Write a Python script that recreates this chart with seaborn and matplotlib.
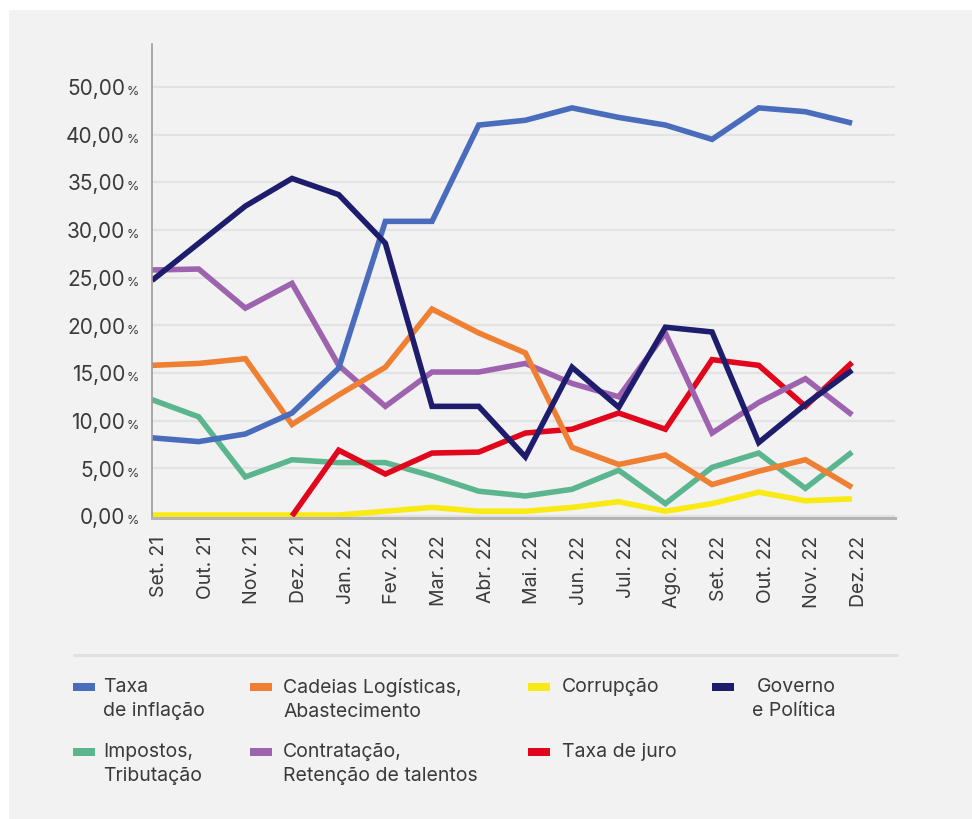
import numpy as np
import pandas as pd
import matplotlib
matplotlib.use("Agg")
import matplotlib.pyplot as plt
import matplotlib.transforms as mtransforms
from matplotlib.patches import Rectangle
from matplotlib.lines import Line2D
import seaborn as sns

# dados (% de respostas por mes)
months = ["Set. 21", "Out. 21", "Nov. 21", "Dez. 21", "Jan. 22", "Fev. 22", "Mar. 22", "Abr. 22",
          "Mai. 22", "Jun. 22", "Jul. 22", "Ago. 22", "Set. 22", "Out. 22", "Nov. 22", "Dez. 22"]

inflacao = [8.2, 7.8, 8.6, 10.8, 15.5, 30.9, 30.9, 41.0, 41.5, 42.8, 41.8, 41.0, 39.5, 42.8, 42.4, 41.2]
cadeias = [15.8, 16.0, 16.5, 9.6, 12.7, 15.6, 21.7, 19.2, 17.1, 7.2, 5.4, 6.4, 3.3, 4.7, 5.9, 3.0]
corrupcao = [0.1, 0.1, 0.1, 0.1, 0.1, 0.5, 0.9, 0.5, 0.5, 0.9, 1.5, 0.5, 1.3, 2.5, 1.6, 1.8]
governo = [24.7, 28.6, 32.5, 35.4, 33.7, 28.6, 11.5, 11.5, 6.2, 15.6, 11.4, 19.8, 19.3, 7.7, 11.7, 15.3]
impostos = [12.2, 10.4, 4.1, 5.9, 5.6, 5.6, 4.2, 2.6, 2.1, 2.8, 4.8, 1.3, 5.1, 6.6, 2.9, 6.7]
contratacao = [25.8, 25.9, 21.8, 24.4, 15.8, 11.5, 15.1, 15.1, 16.0, 13.9, 12.5, 19.2, 8.7, 11.9, 14.4, 10.6]
juro = [np.nan, np.nan, np.nan, 0.0, 6.9, 4.4, 6.6, 6.7, 8.7, 9.1, 10.8, 9.1, 16.4, 15.8, 11.5, 16.1]

ytick_vals = [0, 5, 10, 15, 20, 25, 30, 35, 40, 45]
ytick_text = ["0,00", "5,00", "10,00", "15,00", "20,00", "25,00", "30,00", "35,00", "40,00", "50,00"]

series = {
    "Taxa\nde inflação": inflacao,
    "Cadeias Logísticas,\nAbastecimento": cadeias,
    "Corrupção": corrupcao,
    "Governo\ne Política": governo,
    "Impostos,\nTributação": impostos,
    "Contratação,\nRetenção de talentos": contratacao,
    "Taxa de juro": juro,
}
colors = {
    "Taxa\nde inflação": "#4a6cbd",
    "Cadeias Logísticas,\nAbastecimento": "#ef7f32",
    "Corrupção": "#f8ea12",
    "Governo\ne Política": "#1e1c6c",
    "Impostos,\nTributação": "#5bb68f",
    "Contratação,\nRetenção de talentos": "#9e63ae",
    "Taxa de juro": "#e2061c",
}
# ordem de desenho (de baixo para cima)
draw_order = ["Corrupção", "Impostos,\nTributação", "Taxa de juro", "Contratação,\nRetenção de talentos",
              "Cadeias Logísticas,\nAbastecimento", "Taxa\nde inflação", "Governo\ne Política"]

rows = []
for name, vals in series.items():
    for i, v in enumerate(vals):
        rows.append({"mes": i, "valor": v, "serie": name})
df = pd.DataFrame(rows).dropna()

sns.set_theme(style="white")
plt.rcParams["font.family"] = ["Inter", "DejaVu Sans"]

W, H = 972, 820
fig = plt.figure(figsize=(W / 100, H / 100), dpi=100, facecolor="white")

def fx(x):
    return x / W

def fy(y):
    return 1 - y / H

# painel cinzento
fig.add_artist(Rectangle((fx(9), 0), 1 - fx(9), fy(11), transform=fig.transFigure,
                         facecolor="#f2f2f2", edgecolor="none", zorder=-5))

ax = fig.add_axes([fx(152), fy(519), fx(895) - fx(152), fy(45) - fy(519)])
ax.set_facecolor("#f2f2f2")

sns.lineplot(data=df, x="mes", y="valor", hue="serie", hue_order=draw_order, palette=colors,
             linewidth=4.0, errorbar=None, estimator=None, legend=False, ax=ax,
             solid_joinstyle="miter", solid_capstyle="butt")

ax.set_xlim(0, 15.92)
ax.set_ylim(-0.21, 49.5)
ax.set_xlabel("")
ax.set_ylabel("")

for v in ytick_vals:
    ax.axhline(v, color="#e3e3e3", lw=1.6, zorder=0)

ax.set_yticks([])
base = mtransforms.blended_transform_factory(ax.transAxes, ax.transData)
shift = mtransforms.ScaledTranslation(0, -5.2 / 72, fig.dpi_scale_trans)
for v, t in zip(ytick_vals, ytick_text):
    ax.text(-27 / 743, v, t, transform=base + shift, ha="right", va="baseline",
            fontsize=15, color="#3a3a3a")
    ax.text(-13 / 743, v, "%", transform=base + shift, ha="right", va="baseline",
            fontsize=9, color="#3a3a3a")

ax.set_xticks(range(len(months)))
ax.set_xticklabels(months, rotation=90, fontsize=14, color="#3a3a3a", va="top")
ax.tick_params(axis="x", length=0, pad=12)
off = mtransforms.ScaledTranslation(5 / 72, 0, fig.dpi_scale_trans)
for lab in ax.get_xticklabels():
    lab.set_transform(lab.get_transform() + off)

for s in ["top", "right"]:
    ax.spines[s].set_visible(False)
ax.spines["left"].set_color("#9c9c9c")
ax.spines["left"].set_linewidth(1.2)
ax.spines["bottom"].set_color("#b4b4b4")
ax.spines["bottom"].set_linewidth(2.2)

# linha separadora
fig.add_artist(Line2D([fx(74), fx(897)], [fy(656), fy(656)], transform=fig.transFigure,
                      color="#e0e0e0", lw=2))

# legenda
legend_order = ["Taxa\nde inflação", "Cadeias Logísticas,\nAbastecimento", "Corrupção", "Governo\ne Política",
                "Impostos,\nTributação", "Contratação,\nRetenção de talentos", "Taxa de juro"]
col_patch = [73, 250, 528, 712]
col_text = [103, 283, 562, 745]
row_top = [678, 743]
for k, name in enumerate(legend_order):
    c, r = k % 4, k // 4
    fig.add_artist(Rectangle((fx(col_patch[c]), fy(row_top[r] + 14)), fx(22), 8 / H,
                             transform=fig.transFigure, facecolor=colors[name], edgecolor="none"))
    if name.startswith("Governo"):
        fig.text(fx(836), fy(row_top[r]), name, ha="right", va="top", fontsize=14,
                 color="#3a3a3a", linespacing=1.4, multialignment="right")
    else:
        fig.text(fx(col_text[c]), fy(row_top[r]), name, ha="left", va="top", fontsize=14,
                 color="#3a3a3a", linespacing=1.4)

fig.savefig("out.png", dpi=100, facecolor="white")
